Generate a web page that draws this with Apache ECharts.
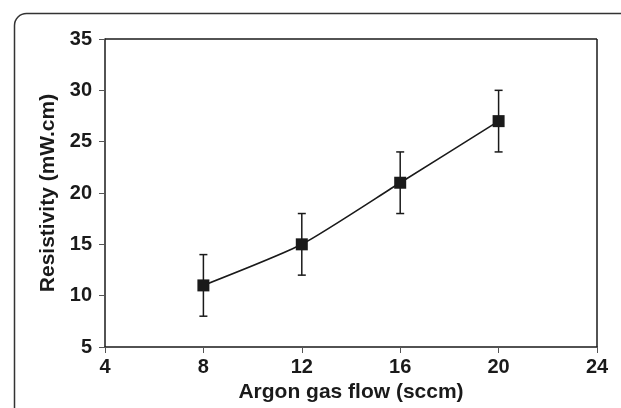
<!DOCTYPE html>
<html>
<head>
<meta charset="utf-8">
<script src="https://cdn.jsdelivr.net/npm/echarts@6/dist/echarts.min.js"></script>
<style>
  html, body { margin: 0; padding: 0; background: #fff; }
  #chart { width: 621px; height: 408px; }
</style>
</head>
<body>
<div id="chart"></div>
<script>
// Data
const flow = [8, 12, 16, 20];
const resistivity = [11, 15, 21, 27];
const errLow = [8, 12, 18, 24];
const errHigh = [14, 18, 24, 30];

const chart = echarts.init(document.getElementById('chart'));

const font = '"Liberation Sans", Arial, sans-serif';
const ink = '#1a1a1a';

const option = {
  animation: false,
  graphic: [
    {
      type: 'rect',
      left: 12,
      top: 11,
      shape: { width: 640, height: 430, r: 12 },
      style: { fill: 'none', stroke: '#333', lineWidth: 1.5 },
      z: 0
    }
  ],
  grid: { left: 105, right: 24, top: 39, bottom: 61 },
  xAxis: {
    type: 'value',
    min: 4,
    max: 24,
    interval: 4,
    name: 'Argon gas flow (sccm)',
    nameLocation: 'middle',
    nameGap: 31,
    nameTextStyle: { fontFamily: font, fontWeight: 'bold', fontSize: 21, color: ink },
    axisLine: { lineStyle: { color: ink, width: 1.5 } },
    axisTick: { show: true, inside: false, length: 6, lineStyle: { color: '#555', width: 1 } },
    axisLabel: { margin: 10, fontFamily: font, fontWeight: 'bold', fontSize: 20, color: ink },
    splitLine: { show: false }
  },
  yAxis: {
    type: 'value',
    min: 5,
    max: 35,
    interval: 5,
    name: 'Resistivity (mW.cm)',
    nameLocation: 'middle',
    nameGap: 45,
    nameTextStyle: { fontFamily: font, fontWeight: 'bold', fontSize: 21, color: ink },
    axisLine: { show: true, lineStyle: { color: ink, width: 1.5 } },
    axisTick: { show: true, inside: false, length: 6, lineStyle: { color: '#555', width: 1 } },
    axisLabel: { margin: 13, fontFamily: font, fontWeight: 'bold', fontSize: 20, color: ink },
    splitLine: { show: false }
  },
  series: [
    {
      // top and right frame lines of the plot box
      type: 'line',
      data: [],
      markLine: {
        silent: true,
        symbol: 'none',
        label: { show: false },
        lineStyle: { color: ink, width: 1.5, type: 'solid' },
        data: [{ yAxis: 35 }, { xAxis: 24 }]
      }
    },
    {
      type: 'custom',
      renderItem: function (params, api) {
        const x = api.value(0);
        const lo = api.coord([x, api.value(1)]);
        const hi = api.coord([x, api.value(2)]);
        const cap = 4;
        const style = { stroke: ink, lineWidth: 1.5 };
        return {
          type: 'group',
          children: [
            { type: 'line', shape: { x1: lo[0], y1: lo[1], x2: hi[0], y2: hi[1] }, style: style },
            { type: 'line', shape: { x1: lo[0] - cap, y1: lo[1], x2: lo[0] + cap, y2: lo[1] }, style: style },
            { type: 'line', shape: { x1: hi[0] - cap, y1: hi[1], x2: hi[0] + cap, y2: hi[1] }, style: style }
          ]
        };
      },
      data: flow.map((f, i) => [f, errLow[i], errHigh[i]]),
      z: 2
    },
    {
      type: 'line',
      data: flow.map((f, i) => [f, resistivity[i]]),
      smooth: 0.2,
      symbol: 'rect',
      symbolSize: 12,
      itemStyle: { color: ink },
      lineStyle: { color: ink, width: 1.6 },
      z: 3
    }
  ]
};

chart.setOption(option);
</script>
</body>
</html>
